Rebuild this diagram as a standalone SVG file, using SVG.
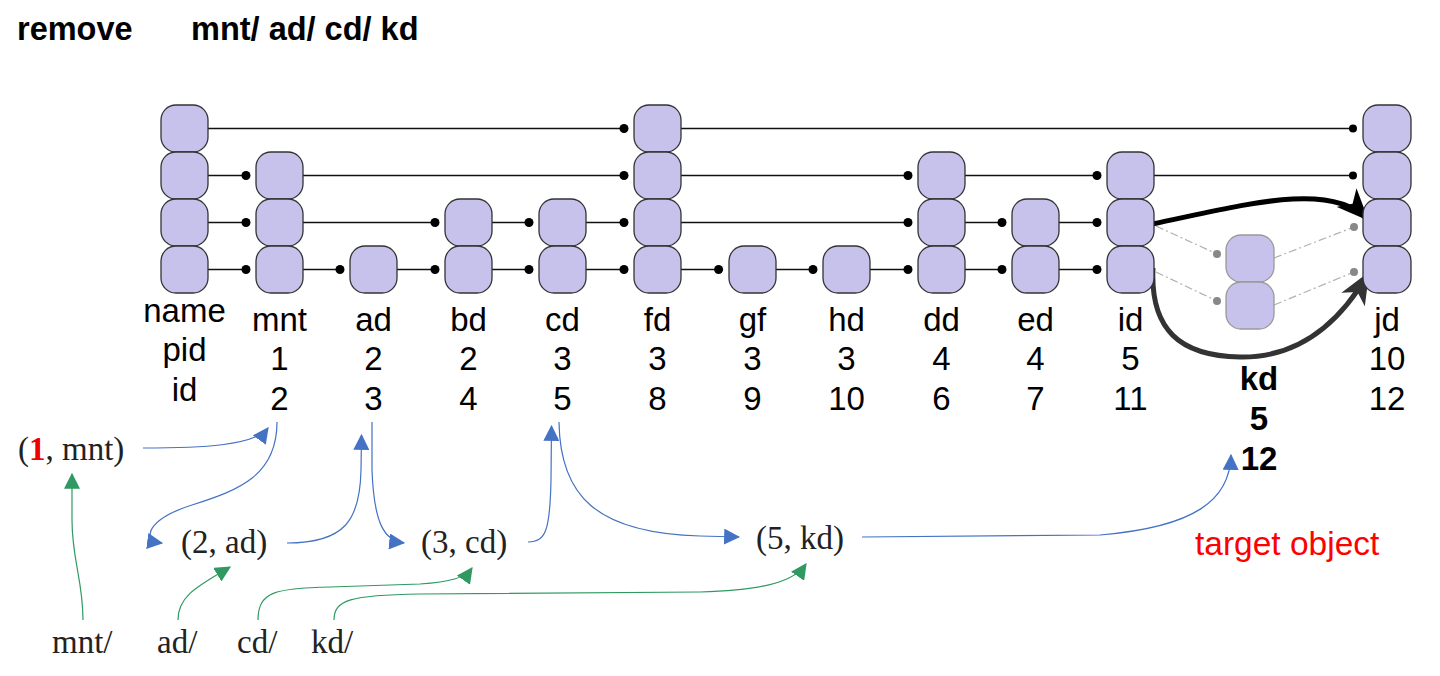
<svg xmlns="http://www.w3.org/2000/svg" width="1440" height="676" viewBox="0 0 1440 676">
<style>
.b{fill:#C6C2EC;stroke:#333;stroke-width:1.3}
.g{fill:#C6C2EC;stroke:#999;stroke-width:1.3}
.ln{stroke:#111;stroke-width:1.4;fill:none}
.dd{stroke:#b0b0b0;stroke-width:1.2;fill:none;stroke-dasharray:8 3 2 3}
.dt{fill:#000}
.gd{fill:#888}
.lb{font-family:"Liberation Sans",Arial,sans-serif;font-size:33px;text-anchor:middle;fill:#000}
.bd{font-weight:bold}
.sf{font-family:"Liberation Serif","Times New Roman",serif;font-size:33px;fill:#222}
.bl{stroke:#4472C4;stroke-width:1.2;fill:none;marker-end:url(#ab)}
.gr{stroke:#2E9960;stroke-width:1.2;fill:none;marker-end:url(#ag)}
</style>
<defs>
<marker id="ab" markerUnits="userSpaceOnUse" markerWidth="16" markerHeight="16" viewBox="0 0 14 14" refX="13" refY="7" orient="auto"><path d="M0,0 L14,7 L0,14 z" fill="#4472C4"/></marker>
<marker id="ag" markerUnits="userSpaceOnUse" markerWidth="16" markerHeight="16" viewBox="0 0 14 14" refX="13" refY="7" orient="auto"><path d="M0,0 L14,7 L0,14 z" fill="#2E9960"/></marker>
<marker id="ak" markerUnits="userSpaceOnUse" markerWidth="32" markerHeight="28" viewBox="0 0 26 22" refX="24" refY="11" orient="auto"><path d="M0,0 L26,11 L0,22 L7,11 z" fill="#000"/></marker>
<marker id="ak2" markerUnits="userSpaceOnUse" markerWidth="32" markerHeight="28" viewBox="0 0 26 22" refX="24" refY="11" orient="auto"><path d="M0,0 L26,11 L0,22 L7,11 z" fill="#333"/></marker>
</defs>
<rect width="1440" height="676" fill="#fff"/>
<text x="17" y="40" font-family="Liberation Sans,Arial,sans-serif" font-size="32.5" font-weight="bold">remove</text>
<text x="191" y="40" font-family="Liberation Sans,Arial,sans-serif" font-size="32.5" font-weight="bold">mnt/ ad/ cd/ kd</text>

<g id="connectors">
<path class="ln" d="M208 128.5H624 M681 128.5H1353"/>
<path class="ln" d="M208 175.5H246 M303 175.5H624 M681 175.5H908 M965 175.5H1097 M1154 175.5H1353"/>
<path class="ln" d="M208 222.5H246 M303 222.5H435 M492 222.5H529 M586 222.5H624 M681 222.5H908 M965 222.5H1002 M1059 222.5H1097"/>
<path class="ln" d="M208 269.5H246 M303 269.5H340 M397 269.5H435 M492 269.5H529 M586 269.5H624 M681 269.5H718.6 M776 269.5H813 M870 269.5H908 M965 269.5H1002 M1059 269.5H1097"/>
<g class="dt">
<circle cx="624" cy="128.5" r="4.5"/><circle cx="1353" cy="128.5" r="4"/>
<circle cx="246" cy="175.5" r="4.5"/><circle cx="624" cy="175.5" r="4.5"/><circle cx="908" cy="175.5" r="4.5"/><circle cx="1097" cy="175.5" r="4.5"/><circle cx="1353" cy="175.5" r="4"/>
<circle cx="246" cy="222.5" r="4.5"/><circle cx="435" cy="222.5" r="4.5"/><circle cx="529" cy="222.5" r="4.5"/><circle cx="624" cy="222.5" r="4.5"/><circle cx="908" cy="222.5" r="4.5"/><circle cx="1002" cy="222.5" r="4.5"/><circle cx="1097" cy="222.5" r="4.5"/>
<circle cx="246" cy="269.5" r="4.5"/><circle cx="340" cy="269.5" r="4.5"/><circle cx="435" cy="269.5" r="4.5"/><circle cx="529" cy="269.5" r="4.5"/><circle cx="624" cy="269.5" r="4.5"/><circle cx="718.6" cy="269.5" r="4.5"/><circle cx="813" cy="269.5" r="4.5"/><circle cx="908" cy="269.5" r="4.5"/><circle cx="1002" cy="269.5" r="4.5"/><circle cx="1097" cy="269.5" r="4.5"/>
</g>
<path class="dd" d="M1156 226 L1217 254 M1156 272 L1217 301 M1274 258 L1354 227 M1274 305 L1354 272"/>
<g class="gd">
<circle cx="1217" cy="254" r="4"/><circle cx="1217" cy="301" r="4"/><circle cx="1354" cy="227" r="4"/><circle cx="1354" cy="272" r="4"/>
</g>
<path d="M1152 224 C1240 206 1330 180 1367 219" stroke="#000" stroke-width="5" fill="none" marker-end="url(#ak)"/>
<path d="M1153 268 C1150 330 1180 356 1240 357 C1300 358 1340 322 1368 274" stroke="#333" stroke-width="5" fill="none" marker-end="url(#ak2)"/>
<path class="bl" d="M143 448 C200 448 255 446 268 428"/>
<path class="bl" d="M277 422 C277 475 240 490 192 505 C148 519 140 540 162 543"/>
<path class="bl" d="M287 543 C345 543 360 520 361 470 L361.5 435"/>
<path class="bl" d="M372 422 L372 470 C374 525 385 541 404 543"/>
<path class="bl" d="M528 542 C546 542 550 530 551 480 L551.5 426"/>
<path class="bl" d="M559 422 C560 495 595 533 700 536 L739 537"/>
<path class="bl" d="M862 537 L1100 535 C1195 527 1230 500 1231 455"/>
<path class="gr" d="M83 620 C83 580 72 560 72 520 L72 474"/>
<path class="gr" d="M178 620 C178 595 200 585 230 567"/>
<path class="gr" d="M258 620 C258 592 275 588 330 587 L420 584 C450 582 465 578 472 568"/>
<path class="gr" d="M334 620 C334 600 350 595 420 594 L700 592 C770 590 795 580 806 564"/>
</g>

<g id="n-name">
<rect class="b" x="161" y="105" width="47" height="47" rx="15"/>
<rect class="b" x="161" y="152" width="47" height="47" rx="15"/>
<rect class="b" x="161" y="199" width="47" height="47" rx="15"/>
<rect class="b" x="161" y="246" width="47" height="47" rx="15"/>
<text class="lb" x="184.5" y="322">name</text><text class="lb" x="184.5" y="361">pid</text><text class="lb" x="184.5" y="401">id</text>
</g>
<g id="n-mnt">
<rect class="b" x="256" y="152" width="47" height="47" rx="15"/>
<rect class="b" x="256" y="199" width="47" height="47" rx="15"/>
<rect class="b" x="256" y="246" width="47" height="47" rx="15"/>
<text class="lb" x="279.5" y="331">mnt</text><text class="lb" x="279.5" y="370">1</text><text class="lb" x="279.5" y="410">2</text>
</g>
<g id="n-ad">
<rect class="b" x="350" y="246" width="47" height="47" rx="15"/>
<text class="lb" x="373.5" y="331">ad</text><text class="lb" x="373.5" y="370">2</text><text class="lb" x="373.5" y="410">3</text>
</g>
<g id="n-bd">
<rect class="b" x="445" y="199" width="47" height="47" rx="15"/>
<rect class="b" x="445" y="246" width="47" height="47" rx="15"/>
<text class="lb" x="468.5" y="331">bd</text><text class="lb" x="468.5" y="370">2</text><text class="lb" x="468.5" y="410">4</text>
</g>
<g id="n-cd">
<rect class="b" x="539" y="199" width="47" height="47" rx="15"/>
<rect class="b" x="539" y="246" width="47" height="47" rx="15"/>
<text class="lb" x="562.5" y="331">cd</text><text class="lb" x="562.5" y="370">3</text><text class="lb" x="562.5" y="410">5</text>
</g>
<g id="n-fd">
<rect class="b" x="634" y="105" width="47" height="47" rx="15"/>
<rect class="b" x="634" y="152" width="47" height="47" rx="15"/>
<rect class="b" x="634" y="199" width="47" height="47" rx="15"/>
<rect class="b" x="634" y="246" width="47" height="47" rx="15"/>
<text class="lb" x="657.5" y="331">fd</text><text class="lb" x="657.5" y="370">3</text><text class="lb" x="657.5" y="410">8</text>
</g>
<g id="n-gf">
<rect class="b" x="729" y="246" width="47" height="47" rx="15"/>
<text class="lb" x="752.5" y="331">gf</text><text class="lb" x="752.5" y="370">3</text><text class="lb" x="752.5" y="410">9</text>
</g>
<g id="n-hd">
<rect class="b" x="823" y="246" width="47" height="47" rx="15"/>
<text class="lb" x="846.5" y="331">hd</text><text class="lb" x="846.5" y="370">3</text><text class="lb" x="846.5" y="410">10</text>
</g>
<g id="n-dd">
<rect class="b" x="918" y="152" width="47" height="47" rx="15"/>
<rect class="b" x="918" y="199" width="47" height="47" rx="15"/>
<rect class="b" x="918" y="246" width="47" height="47" rx="15"/>
<text class="lb" x="941.5" y="331">dd</text><text class="lb" x="941.5" y="370">4</text><text class="lb" x="941.5" y="410">6</text>
</g>
<g id="n-ed">
<rect class="b" x="1012" y="199" width="47" height="47" rx="15"/>
<rect class="b" x="1012" y="246" width="47" height="47" rx="15"/>
<text class="lb" x="1035.5" y="331">ed</text><text class="lb" x="1035.5" y="370">4</text><text class="lb" x="1035.5" y="410">7</text>
</g>
<g id="n-id">
<rect class="b" x="1107" y="152" width="47" height="47" rx="15"/>
<rect class="b" x="1107" y="199" width="47" height="47" rx="15"/>
<rect class="b" x="1107" y="246" width="47" height="47" rx="15"/>
<text class="lb" x="1130.5" y="331">id</text><text class="lb" x="1130.5" y="370">5</text><text class="lb" x="1130.5" y="410">11</text>
</g>
<g id="n-kd">
<rect class="g" x="1226" y="235" width="48" height="47" rx="15"/>
<rect class="g" x="1226" y="282" width="48" height="47" rx="15"/>
<text class="lb bd" x="1259" y="390">kd</text><text class="lb bd" x="1259" y="430">5</text><text class="lb bd" x="1259" y="470">12</text>
</g>
<g id="n-jd">
<rect class="b" x="1363" y="105" width="48" height="47" rx="15"/>
<rect class="b" x="1363" y="152" width="48" height="47" rx="15"/>
<rect class="b" x="1363" y="199" width="48" height="47" rx="15"/>
<rect class="b" x="1363" y="246" width="48" height="47" rx="15"/>
<text class="lb" x="1387" y="331">jd</text><text class="lb" x="1387" y="370">10</text><text class="lb" x="1387" y="410">12</text>
</g>

<g id="lookup">
<text class="sf" x="18" y="460">(<tspan fill="#E00" font-weight="bold">1</tspan>, mnt)</text>
<text class="sf" x="181" y="553">(2, ad)</text>
<text class="sf" x="421" y="553">(3, cd)</text>
<text class="sf" x="756" y="549">(5, kd)</text>
<text class="sf" x="52" y="653">mnt/</text>
<text class="sf" x="157" y="653">ad/</text>
<text class="sf" x="237" y="653">cd/</text>
<text class="sf" x="311" y="653">kd/</text>
<text x="1195" y="555" font-family="Liberation Sans,Arial,sans-serif" font-size="33.5" fill="#F00">target object</text>
</g>
</svg>
